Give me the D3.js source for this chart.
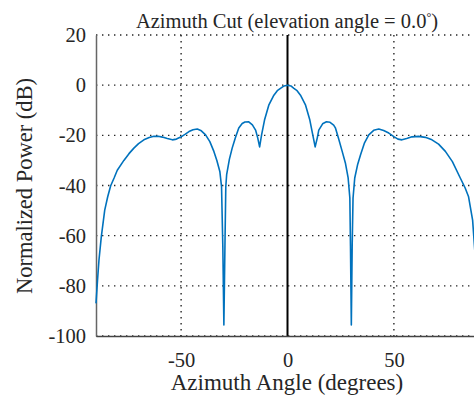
<!DOCTYPE html>
<meta charset="UTF-8">
<style>
body { margin: 0; background: #fff; }
svg { display: block; }
</style>
<body>
<script src="https://d3js.org/d3.v7.min.js"></script>
<script>

// azimuth angle (deg) and normalized power (dB)
var azimuth = [-90, -89.3, -88.6, -87.5, -85.9, -84.5, -83.1, -81.5, -80, -76.9,
  -74.5, -72.2, -70, -67.5, -65, -62.8, -60.8, -58.8, -56.5, -54.1,
  -52.2, -50.2, -48.2, -46.3, -44.4, -42.4, -40.5, -38.5, -36.5, -34.6,
  -33.2, -31.8, -31, -30.4, -29.9, -29.4, -29, -28.6, -27.3, -26,
  -24.5, -22.9, -21.3, -20, -18.2, -16.5, -15, -14, -13.1, -12.2,
  -10.8, -8.8, -6.4, -4.8, -3.3, -1.6, 0, 1.6, 3, 4.5,
  6.1, 8.5, 10.5, 11.9, 13, 14, 14.7, 16.5, 18.3, 20,
  21.7, 22.5, 23.9, 25.7, 27.2, 28.5, 29.3, 29.6, 30, 30.4,
  30.8, 31.6, 33, 34.3, 36.2, 38.2, 40.5, 42.9, 45.2, 47.6,
  50, 51.9, 53.8, 56, 58.5, 61.6, 64.8, 67.9, 71, 74.2,
  77.5, 81.2, 83.5, 85.1, 87, 88, 89, 90];
var power = [-87, -78, -69.7, -60.4, -49.8, -44.5, -40.1, -37, -33.9, -30,
  -27.3, -25.1, -23.3, -21.8, -20.9, -20.4, -20.4, -20.7, -21.3, -21.8,
  -21.5, -20.7, -19.6, -18.5, -17.8, -17.5, -18.2, -19.8, -22.5, -26.4,
  -30, -34.4, -40.5, -64, -95.6, -64, -40.5, -35.7, -29.5, -25.1,
  -21, -17.1, -15.3, -14.7, -14.6, -15.8, -17.9, -21, -24.6, -19.9,
  -13.9, -8, -4, -2.2, -1.3, -0.3, 0, -0.3, -1.3, -2.2,
  -4, -8, -13.9, -19.9, -24.6, -21, -17.9, -15.4, -14.6, -14.8,
  -15.9, -17, -21, -26.4, -31, -37, -45, -64, -95.6, -64,
  -45, -37, -31.5, -27.8, -23, -19.8, -18, -17.5, -18.1, -19.1,
  -20.5, -21.5, -21.8, -21.3, -20.6, -20.4, -20.8, -21.8, -23.5, -26.4,
  -30.5, -37, -41, -44.5, -53.8, -65.7, -76, -87];

var xTicks = [-50, 0, 50];
var yTicks = [20, 0, -20, -40, -60, -80, -100];

var FONT = "'Liberation Serif', 'DejaVu Serif', serif";

var W = 474, H = 401;
var margin = {top: 35, left: 96},
    width = 383, height = 301;

var svg = d3.select("body").append("svg")
    .attr("width", W)
    .attr("height", H);

var g = svg.append("g")
    .attr("transform", "translate(" + margin.left + "," + margin.top + ")");

var x = d3.scaleLinear().domain([-90, 90]).range([0, width]);
var y = d3.scaleLinear().domain([-100, 20]).range([height, 0]);

// dotted grid
g.selectAll(".hgrid").data(yTicks).enter().append("line")
    .attr("x1", 0).attr("x2", width)
    .attr("y1", function(d) { return y(d); })
    .attr("y2", function(d) { return y(d); })
    .attr("stroke", "#262626")
    .attr("stroke-width", 1.4)
    .attr("stroke-dasharray", "1.4,4.6");
g.selectAll(".vgrid").data(xTicks.filter(function(d) { return d !== 0; })).enter().append("line")
    .attr("y1", 0).attr("y2", height)
    .attr("x1", function(d) { return x(d); })
    .attr("x2", function(d) { return x(d); })
    .attr("stroke", "#262626")
    .attr("stroke-width", 1.4)
    .attr("stroke-dasharray", "1.4,4.6");

// solid line at 0 deg
g.append("line")
    .attr("x1", x(0)).attr("x2", x(0))
    .attr("y1", 0).attr("y2", height)
    .attr("stroke", "#000")
    .attr("stroke-width", 2);

// axes
var xAxis = g.append("g")
    .attr("transform", "translate(0," + height + ")")
    .call(d3.axisBottom(x).tickValues(xTicks).tickSize(0).tickPadding(16)
      .tickFormat(function(d) { return String(d); }));
var yAxis = g.append("g")
    .call(d3.axisLeft(y).tickValues(yTicks).tickSize(0).tickPadding(10)
      .tickFormat(function(d) { return String(d); }));
xAxis.select(".domain").attr("stroke", "#444").attr("stroke-width", 1.5);
yAxis.select(".domain").attr("stroke", "#666").attr("stroke-width", 1.5);
svg.selectAll(".tick text")
    .attr("font-family", FONT)
    .style("font-family", FONT)
    .style("font-size", "20.5px")
    .attr("fill", "#262626");

// pattern curve
var pts = azimuth.map(function(a, i) { return [a, power[i]]; });
g.append("path")
    .datum(pts)
    .attr("fill", "none")
    .attr("stroke", "#0072BD")
    .attr("stroke-width", 1.6)
    .attr("stroke-linejoin", "round")
    .attr("d", d3.line()
      .x(function(d) { return x(d[0]); })
      .y(function(d) { return y(d[1]); }));

// labels
function label(t, size) {
  return t.attr("font-family", FONT)
    .style("font-family", FONT)
    .style("font-size", size + "px")
    .attr("fill", "#262626")
    .attr("text-anchor", "middle");
}

var title = label(svg.append("text"), 20.5)
    .attr("x", 287)
    .attr("y", 28)
    .text("Azimuth Cut (elevation angle = 0.0");
title.append("tspan")
    .attr("dy", -7)
    .style("font-size", "12px")
    .text("°");
title.append("tspan")
    .attr("dy", 7)
    .text(")");

label(svg.append("text"), 23)
    .attr("x", 287)
    .attr("y", 390)
    .text("Azimuth Angle (degrees)");

label(svg.append("text"), 22.5)
    .attr("transform", "translate(32,186) rotate(-90)")
    .text("Normalized Power (dB)");

</script>
</body>
